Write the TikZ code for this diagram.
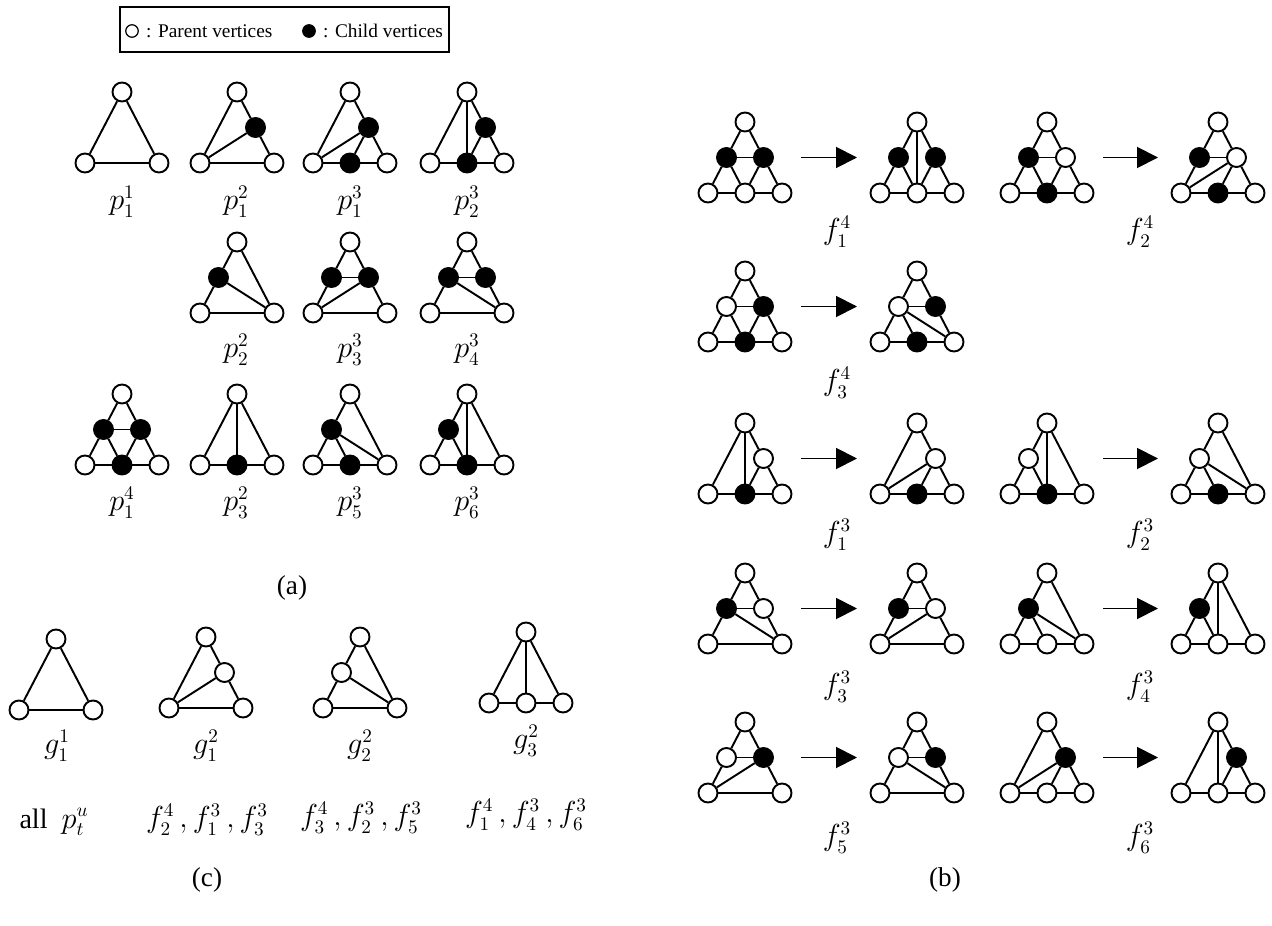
\documentclass[tikz,border=0pt]{standalone}
\usepackage{fontspec}
\setmainfont{Liberation Serif}
\usetikzlibrary{positioning,arrows.meta}

% one small triangle graph: name, x, y of top vertex, vertices (pos/style), edges (pos/pos)
\newcommand{\trigraph}[5]{%
  \begin{scope}[shift={(#2,#3)}]
    \coordinate (#1-t) at (0,0);
    \coordinate (#1-ml) at (-18.5,35.5);
    \coordinate (#1-mr) at (18.5,35.5);
    \coordinate (#1-l) at (-37,71);
    \coordinate (#1-mb) at (0,71);
    \coordinate (#1-r) at (37,71);
    \coordinate (#1-out) at (56,35.5);
    \coordinate (#1-in) at (-60,35.5);
  \end{scope}
  \foreach \v/\s in {#4} {\node[\s] (#1\v) at (#1-\v) {};}
  \foreach \a/\b in {#5} {\draw[link] (#1\a) -- (#1\b);}
}

\begin{document}
\begin{tikzpicture}[
    x=0.02cm, y=-0.02cm,
    pv/.style={circle, draw, fill=white, line width=1.1pt, minimum size=0.38cm, inner sep=0pt},
    cv/.style={pv, fill=black},
    link/.style={line width=1.1pt},
    transarrow/.style={line width=1.1pt, -{Triangle[length=0.42cm, width=0.42cm]}},
    lbl/.style={font=\fontsize{16}{18}\selectfont},
    sublbl/.style={font=\fontsize{15.5}{17}\selectfont},
    legtext/.style={font=\fontsize{11}{13}\selectfont, inner sep=1pt},
    legendbox/.style={draw, line width=0.8pt, minimum width=6.58cm, minimum height=0.9cm}
  ]
    \useasboundingbox (0,0) rectangle (1272,926);

    % Legend.
    \node[legendbox] (legend) at (284.5,29.5) {};
    \node[pv, minimum size=0.25cm, line width=0.7pt] (lgpar) at (132,31) {};
    \node[legtext, right=3pt of lgpar] (lgpartext) {: Parent vertices};
    \node[cv, minimum size=0.25cm, line width=0.7pt] (lgchd) at (309,31) {};
    \node[legtext, right=3pt of lgchd] (lgchdtext) {: Child vertices};

    % (a) patterns p.
    \trigraph{p11}{122}{92}{t/pv,l/pv,r/pv}{t/l,t/r,l/r}
    \trigraph{p12}{237}{92}{t/pv,l/pv,r/pv,mr/cv}{t/l,t/mr,mr/r,l/mr,l/r}
    \trigraph{p13}{350}{92}{t/pv,l/pv,r/pv,mr/cv,mb/cv}{t/l,t/mr,mr/r,l/mr,mr/mb,l/mb,mb/r}
    \trigraph{p23}{467}{92}{t/pv,l/pv,r/pv,mr/cv,mb/cv}{t/l,t/mr,mr/r,t/mb,mr/mb,l/mb,mb/r}
    \trigraph{p22}{237}{242}{t/pv,l/pv,r/pv,ml/cv}{t/ml,ml/l,t/r,ml/r,l/r}
    \trigraph{p33}{350}{242}{t/pv,l/pv,r/pv,ml/cv,mr/cv}{t/ml,t/mr,ml/mr,ml/l,mr/r,l/mr,l/r}
    \trigraph{p43}{467}{242}{t/pv,l/pv,r/pv,ml/cv,mr/cv}{t/ml,t/mr,ml/mr,ml/l,mr/r,ml/r,l/r}
    \trigraph{p14}{122}{394}{t/pv,l/pv,r/pv,ml/cv,mr/cv,mb/cv}{t/ml,t/mr,ml/mr,ml/l,ml/mb,mr/mb,mr/r,l/mb,mb/r}
    \trigraph{p32}{237}{394}{t/pv,l/pv,r/pv,mb/cv}{t/l,t/r,t/mb,l/mb,mb/r}
    \trigraph{p53}{350}{394}{t/pv,l/pv,r/pv,ml/cv,mb/cv}{t/ml,ml/l,t/r,ml/r,ml/mb,l/mb,mb/r}
    \trigraph{p63}{467}{394}{t/pv,l/pv,r/pv,ml/cv,mb/cv}{t/ml,ml/l,t/mb,t/r,ml/mb,l/mb,mb/r}

    \node[lbl] (p11lbl) at (122,202) {$p_1^1$};
    \node[lbl] (p12lbl) at (236,202) {$p_1^2$};
    \node[lbl] (p13lbl) at (350,202) {$p_1^3$};
    \node[lbl] (p23lbl) at (467,202) {$p_2^3$};
    \node[lbl] (p22lbl) at (236,350) {$p_2^2$};
    \node[lbl] (p33lbl) at (350,350) {$p_3^3$};
    \node[lbl] (p43lbl) at (467,350) {$p_4^3$};
    \node[lbl] (p14lbl) at (122,503) {$p_1^4$};
    \node[lbl] (p32lbl) at (236,503) {$p_3^2$};
    \node[lbl] (p53lbl) at (350,503) {$p_5^3$};
    \node[lbl] (p63lbl) at (467,503) {$p_6^3$};
    \node[sublbl] (capa) at (292,588) {(a)};

    % (b) transformations f.
    \trigraph{f14a}{745}{122}{t/pv,l/pv,r/pv,ml/cv,mr/cv,mb/pv}{t/ml,t/mr,ml/mr,ml/l,ml/mb,mr/mb,mr/r,l/mb,mb/r}
    \trigraph{f14b}{917}{122}{t/pv,l/pv,r/pv,ml/cv,mr/cv,mb/pv}{t/ml,t/mr,t/mb,ml/l,ml/mb,mr/mb,mr/r,l/mb,mb/r}
    \trigraph{f24a}{1047}{122}{t/pv,l/pv,r/pv,ml/cv,mr/pv,mb/cv}{t/ml,t/mr,ml/mr,ml/l,ml/mb,mr/mb,mr/r,l/mb,mb/r}
    \trigraph{f24b}{1218}{122}{t/pv,l/pv,r/pv,ml/cv,mr/pv,mb/cv}{t/ml,t/mr,ml/mr,ml/l,l/mr,mr/mb,mr/r,l/mb,mb/r}
    \trigraph{f34a}{745}{271}{t/pv,l/pv,r/pv,ml/pv,mr/cv,mb/cv}{t/ml,t/mr,ml/mr,ml/l,ml/mb,mr/mb,mr/r,l/mb,mb/r}
    \trigraph{f34b}{917}{271}{t/pv,l/pv,r/pv,ml/pv,mr/cv,mb/cv}{t/ml,t/mr,ml/mr,ml/l,ml/mb,ml/r,mr/r,l/mb,mb/r}
    \trigraph{f13a}{745}{423}{t/pv,l/pv,r/pv,mr/pv,mb/cv}{t/l,t/mr,t/mb,mr/mb,mr/r,l/mb,mb/r}
    \trigraph{f13b}{917}{423}{t/pv,l/pv,r/pv,mr/pv,mb/cv}{t/l,t/mr,mr/r,l/mr,mr/mb,l/mb,mb/r}
    \trigraph{f23a}{1047}{423}{t/pv,l/pv,r/pv,ml/pv,mb/cv}{t/ml,ml/l,t/mb,t/r,ml/mb,l/mb,mb/r}
    \trigraph{f23b}{1218}{423}{t/pv,l/pv,r/pv,ml/pv,mb/cv}{t/ml,ml/l,t/r,ml/mb,ml/r,l/mb,mb/r}
    \trigraph{f33a}{745}{573}{t/pv,l/pv,r/pv,ml/cv,mr/pv}{t/ml,t/mr,ml/mr,ml/l,ml/r,mr/r,l/r}
    \trigraph{f33b}{917}{573}{t/pv,l/pv,r/pv,ml/cv,mr/pv}{t/ml,t/mr,ml/mr,ml/l,l/mr,mr/r,l/r}
    \trigraph{f43a}{1047}{573}{t/pv,l/pv,r/pv,ml/cv,mb/pv}{t/ml,ml/l,t/r,ml/mb,ml/r,l/mb,mb/r}
    \trigraph{f43b}{1218}{573}{t/pv,l/pv,r/pv,ml/cv,mb/pv}{t/ml,ml/l,t/mb,t/r,ml/mb,l/mb,mb/r}
    \trigraph{f53a}{745}{722}{t/pv,l/pv,r/pv,ml/pv,mr/cv}{t/ml,t/mr,ml/mr,ml/l,l/mr,mr/r,l/r}
    \trigraph{f53b}{917}{722}{t/pv,l/pv,r/pv,ml/pv,mr/cv}{t/ml,t/mr,ml/mr,ml/l,ml/r,mr/r,l/r}
    \trigraph{f63a}{1047}{722}{t/pv,l/pv,r/pv,mr/cv,mb/pv}{t/l,t/mr,l/mr,mr/mb,mr/r,l/mb,mb/r}
    \trigraph{f63b}{1218}{722}{t/pv,l/pv,r/pv,mr/cv,mb/pv}{t/l,t/mb,t/mr,mr/mb,mr/r,l/mb,mb/r}

    \draw[transarrow] (f14a-out) -- (f14b-in);
    \draw[transarrow] (f24a-out) -- (f24b-in);
    \draw[transarrow] (f34a-out) -- (f34b-in);
    \draw[transarrow] (f13a-out) -- (f13b-in);
    \draw[transarrow] (f23a-out) -- (f23b-in);
    \draw[transarrow] (f33a-out) -- (f33b-in);
    \draw[transarrow] (f43a-out) -- (f43b-in);
    \draw[transarrow] (f53a-out) -- (f53b-in);
    \draw[transarrow] (f63a-out) -- (f63b-in);

    \node[lbl] (f14lbl) at (837,232) {$f_1^4$};
    \node[lbl] (f24lbl) at (1140,232) {$f_2^4$};
    \node[lbl] (f34lbl) at (837,383) {$f_3^4$};
    \node[lbl] (f13lbl) at (837,535) {$f_1^3$};
    \node[lbl] (f23lbl) at (1140,535) {$f_2^3$};
    \node[lbl] (f33lbl) at (837,687) {$f_3^3$};
    \node[lbl] (f43lbl) at (1140,687) {$f_4^3$};
    \node[lbl] (f53lbl) at (837,838) {$f_5^3$};
    \node[lbl] (f63lbl) at (1140,838) {$f_6^3$};
    \node[sublbl] (capb) at (945,880) {(b)};

    % (c) generated graphs g.
    \trigraph{g11}{56}{639}{t/pv,l/pv,r/pv}{t/l,t/r,l/r}
    \trigraph{g12}{206}{637}{t/pv,l/pv,r/pv,mr/pv}{t/l,t/mr,mr/r,l/mr,l/r}
    \trigraph{g22}{360}{637}{t/pv,l/pv,r/pv,ml/pv}{t/ml,ml/l,t/r,ml/r,l/r}
    \trigraph{g32}{526}{632}{t/pv,l/pv,r/pv,mb/pv}{t/l,t/mb,t/r,l/mb,mb/r}

    \node[lbl] (g11lbl) at (57,746) {$g_1^1$};
    \node[lbl] (g12lbl) at (206,746) {$g_1^2$};
    \node[lbl] (g22lbl) at (360,746) {$g_2^2$};
    \node[lbl] (g32lbl) at (526,741) {$g_3^2$};
    \node[lbl] (g11src) at (54,822) {all~~$p_t^u$};
    \node[lbl] (g12src) at (207,820) {$f_2^4\,, f_1^3\,, f_3^3$};
    \node[lbl] (g22src) at (361,818) {$f_3^4\,, f_2^3\,, f_5^3$};
    \node[lbl] (g32src) at (526,815) {$f_1^4\,, f_4^3\,, f_6^3$};
    \node[sublbl] (capc) at (207,880) {(c)};
  \end{tikzpicture}
\end{document}
